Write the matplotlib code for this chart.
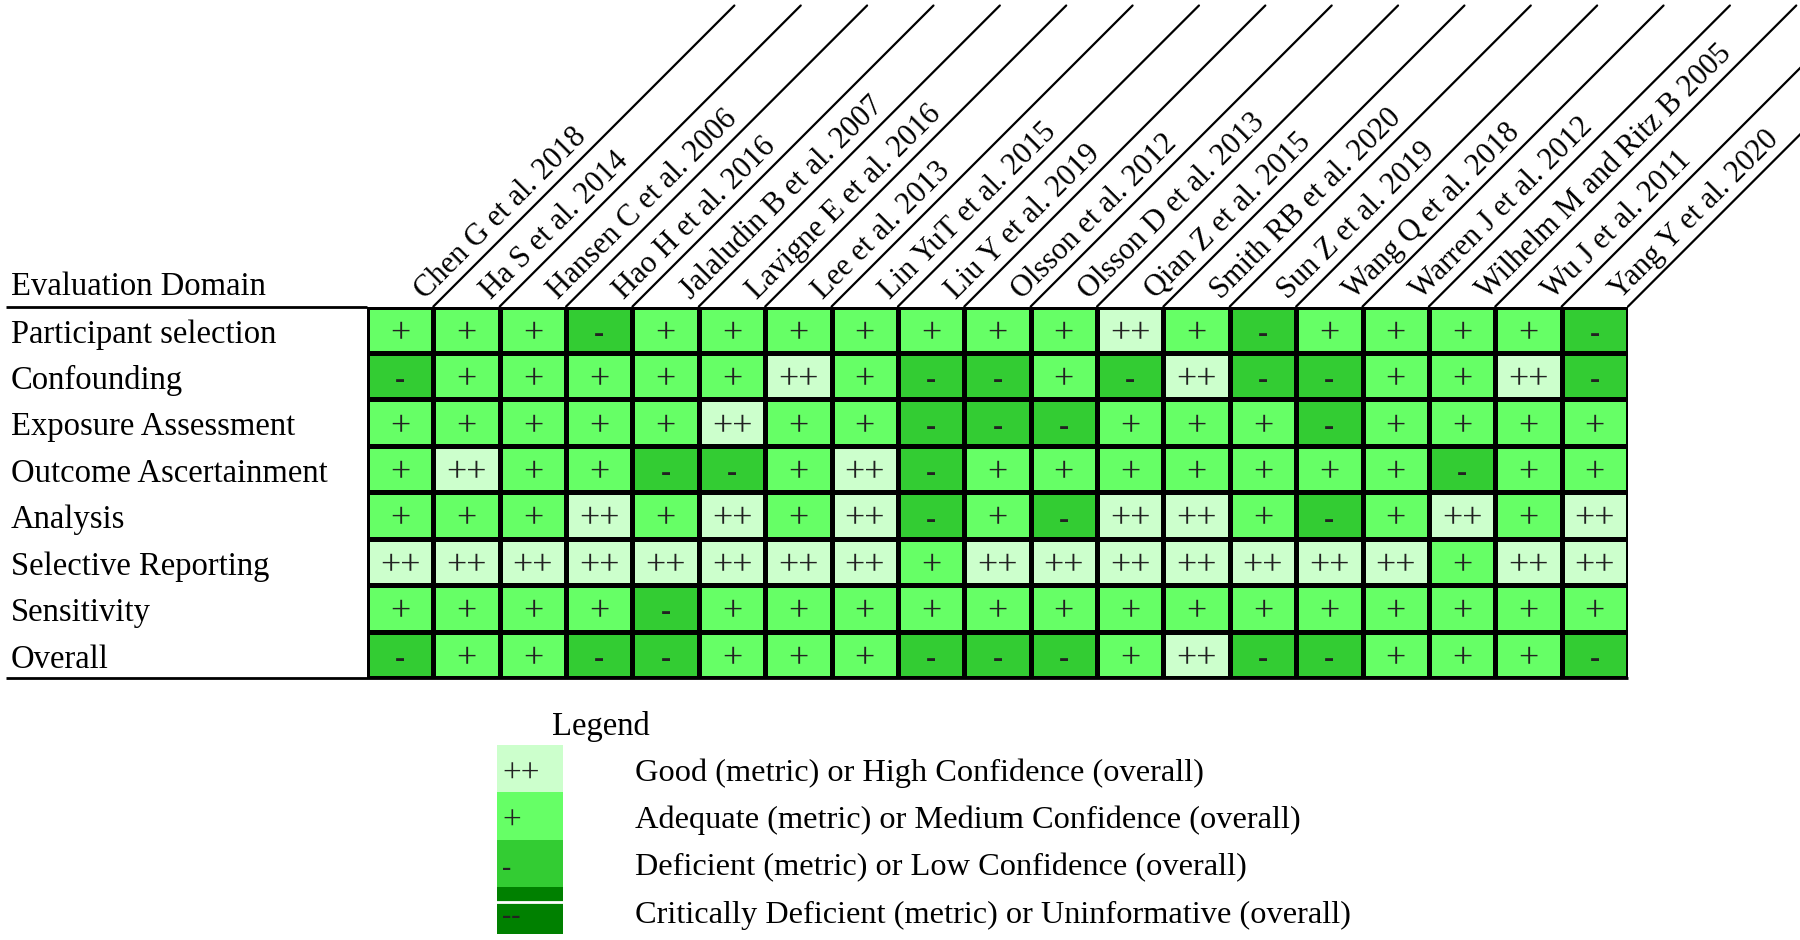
import numpy as np
import matplotlib
matplotlib.use('Agg')
import matplotlib.pyplot as plt
from matplotlib.colors import ListedColormap, BoundaryNorm
from matplotlib import transforms

plt.rcParams['font.family'] = ['Liberation Serif', 'DejaVu Serif']

# study columns and evaluation domains
studies = ['Chen G et al. 2018', 'Ha S et al. 2014', 'Hansen C et al. 2006',
           'Hao H et al. 2016', 'Jalaludin B et al. 2007', 'Lavigne E et al. 2016',
           'Lee et al. 2013', 'Lin YuT et al. 2015', 'Liu Y et al. 2019',
           'Olsson et al. 2012', 'Olsson D et al. 2013', 'Qian Z et al. 2015',
           'Smith RB et al. 2020', 'Sun Z et al. 2019', 'Wang Q et al. 2018',
           'Warren J et al. 2012', 'Wilhelm M and Ritz B 2005', 'Wu J et al. 2011',
           'Yang Y et al. 2020']
domains = ['Participant selection', 'Confounding', 'Exposure Assessment',
           'Outcome Ascertainment', 'Analysis', 'Selective Reporting',
           'Sensitivity', 'Overall']

# 2 = ++, 1 = +, 0 = -, -1 = --
ratings = [
    [1, 1, 1, 0, 1, 1, 1, 1, 1, 1, 1, 2, 1, 0, 1, 1, 1, 1, 0],
    [0, 1, 1, 1, 1, 1, 2, 1, 0, 0, 1, 0, 2, 0, 0, 1, 1, 2, 0],
    [1, 1, 1, 1, 1, 2, 1, 1, 0, 0, 0, 1, 1, 1, 0, 1, 1, 1, 1],
    [1, 2, 1, 1, 0, 0, 1, 2, 0, 1, 1, 1, 1, 1, 1, 1, 0, 1, 1],
    [1, 1, 1, 2, 1, 2, 1, 2, 0, 1, 0, 2, 2, 1, 0, 1, 2, 1, 2],
    [2, 2, 2, 2, 2, 2, 2, 2, 1, 2, 2, 2, 2, 2, 2, 2, 1, 2, 2],
    [1, 1, 1, 1, 0, 1, 1, 1, 1, 1, 1, 1, 1, 1, 1, 1, 1, 1, 1],
    [0, 1, 1, 0, 0, 1, 1, 1, 0, 0, 0, 1, 2, 0, 0, 1, 1, 1, 0],
]

levels = [2, 1, 0, -1]
symbols = {2: '++', 1: '+', 0: '-', -1: '--'}
level_colors = {2: '#ccffcc', 1: '#66ff66', 0: '#33cc33', -1: '#008000'}
legend_labels = ['Good (metric) or High Confidence (overall)',
                 'Adequate (metric) or Medium Confidence (overall)',
                 'Deficient (metric) or Low Confidence (overall)',
                 'Critically Deficient (metric) or Uninformative (overall)']

W, H = 1800, 940
fig = plt.figure(figsize=(18, 9.4), dpi=100)

# main grid
gx0, gx1, gy0, gy1 = 367, 1628, 306.5, 678
ax = fig.add_axes([gx0 / W, 1 - gy1 / H, (gx1 - gx0) / W, (gy1 - gy0) / H])
data = np.array(ratings)
cmap = ListedColormap([level_colors[v] for v in [-1, 0, 1, 2]])
norm = BoundaryNorm([-1.5, -0.5, 0.5, 1.5, 2.5], 4)
ax.pcolormesh(data, cmap=cmap, norm=norm, edgecolors='black', linewidth=2.2)
ax.set_xlim(0, len(studies))
ax.set_ylim(len(domains), 0)
ax.axis('off')

for i in range(len(domains)):
    for j in range(len(studies)):
        v = data[i, j]
        ax.text(j + 0.5, i + 0.6, symbols[v], ha='center', va='center',
                fontsize=26 if v > 0 else 22, color='#222222',
                fontweight='normal' if v > 0 else 'bold')

# row labels and header rules
mix = transforms.blended_transform_factory(fig.transFigure, ax.transData)
for i, d in enumerate(domains):
    ax.text(11 / W, i + 0.6, d, transform=mix, ha='left', va='center',
            fontsize=23.5)
ax.text(11 / W, -0.42, 'Evaluation Domain', transform=mix, ha='left',
        va='center', fontsize=23.5)
ax.plot([6 / W, gx0 / W], [0, 0], transform=mix, color='black', lw=2,
        clip_on=False, solid_capstyle='butt')
ax.plot([6 / W, gx1 / W], [len(domains), len(domains)], transform=mix,
        color='black', lw=2, clip_on=False, solid_capstyle='butt')

# slanted column headers
L = 301 * 0.72
for k, name in enumerate(studies, start=1):
    ax.annotate('', xy=(k, 0), xytext=(L, L), textcoords='offset points',
                arrowprops=dict(arrowstyle='-', color='black', lw=1.6,
                                shrinkA=0, shrinkB=0),
                annotation_clip=False)
    ax.annotate(name, xy=(k, 0), xytext=(-6, 5), textcoords='offset points',
                rotation=45, rotation_mode='anchor', ha='left', va='baseline',
                fontsize=22, annotation_clip=False)

# legend
lax = fig.add_axes([497 / W, 1 - 934 / H, 66 / W, (934 - 745) / H])
for i, v in enumerate(levels):
    lax.barh(i + 0.5, 1, height=1, left=0, color=level_colors[v])
    lax.text(0.08, i + 0.62, symbols[v], ha='left', va='center',
             fontsize=24 if v > 0 else 20, color='#222222',
             fontweight='normal' if v > 0 else 'bold')
lax.axhline(3.32, color='white', lw=2)
lax.set_xlim(0, 1)
lax.set_ylim(len(levels), 0)
lax.axis('off')

lmix = transforms.blended_transform_factory(fig.transFigure, lax.transData)
for i, lab in enumerate(legend_labels):
    lax.text(635 / W, i + 0.6, lab, transform=lmix, ha='left', va='center',
             fontsize=23.3)
fig.text(552 / W, 1 - 727 / H, 'Legend', ha='left', va='center', fontsize=23.5)

fig.savefig('out.png', dpi=100)
